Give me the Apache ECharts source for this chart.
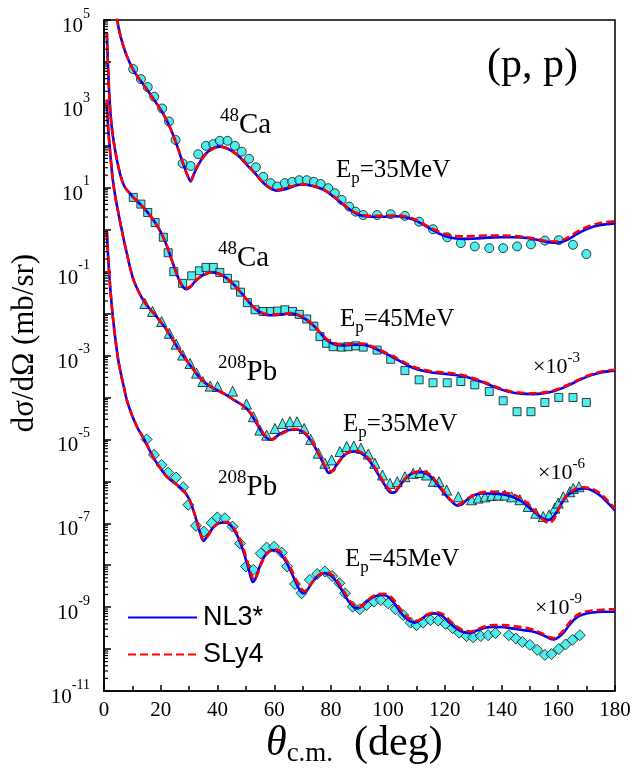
<!DOCTYPE html>
<html>
<head>
<meta charset="utf-8">
<script src="https://cdn.jsdelivr.net/npm/echarts@6/dist/echarts.min.js"></script>
<style>
  html, body { margin: 0; padding: 0; background: #fff; }
  #chart { width: 636px; height: 771px; }
</style>
</head>
<body>
<div id="chart"></div>
<script>
// all cross sections stored as log10(dσ/dΩ in mb/sr), angles in degrees

// ---- data points ----
var ca35Exp = [[10.3,3.83],[13.0,3.59],[15.4,3.40],[17.7,3.17],[20.5,2.89],[22.9,2.58],[25.2,2.14],[27.7,1.58],
  [30.5,1.52],[33.2,1.80],[35.9,2.00],[38.5,2.04],[40.8,2.12],[43.5,2.12],[46.1,2.00],[48.5,1.86],[51.1,1.69],
  [53.5,1.49],[56.1,1.26],[58.7,1.11],[61.0,1.03],[63.7,1.11],[66.3,1.14],[68.8,1.18],[71.4,1.18],[73.9,1.14],
  [76.3,1.09],[79.0,0.99],[81.3,0.87],[83.7,0.71],[86.4,0.55],[88.6,0.43],[91.3,0.35],[96.2,0.35],[101.0,0.37],
  [106.0,0.33],[111.0,0.19],[115.9,0.01],[120.9,-0.18],[125.7,-0.32],[130.6,-0.40],[135.7,-0.44],[140.6,-0.44],
  [145.5,-0.40],[150.4,-0.35],[155.3,-0.26],[160.2,-0.25],[165.2,-0.36],[169.9,-0.58]];

var ca45Exp = [[10.3,0.77],[13.0,0.61],[15.4,0.41],[18.0,0.17],[20.9,-0.18],[22.6,-0.55],[24.6,-1.0],[27.7,-1.28],
  [30.9,-1.10],[33.6,-0.98],[35.9,-0.90],[38.5,-0.90],[40.8,-1.02],[43.5,-1.16],[46.1,-1.32],[48.1,-1.49],
  [50.5,-1.74],[53.2,-1.91],[56.1,-1.95],[58.7,-1.95],[61.1,-1.94],[63.7,-1.91],[66.4,-1.95],[68.8,-2.02],
  [71.4,-2.13],[73.9,-2.30],[76.1,-2.55],[78.4,-2.71],[80.7,-2.79],[83.7,-2.80],[86.0,-2.79],[88.7,-2.77],
  [91.3,-2.80],[96.2,-2.87],[101.0,-3.09],[106.0,-3.36],[111.0,-3.58],[115.9,-3.65],[120.9,-3.65],[125.7,-3.62],
  [130.6,-3.70],[135.7,-3.86],[140.6,-4.08],[145.5,-4.34],[150.4,-4.34],[155.3,-4.12],[160.2,-4.00],
  [165.2,-4.00],[169.9,-4.12]];

var pb35Exp = [[14.4,-1.76],[17.1,-1.95],[20.3,-2.19],[23.0,-2.47],[25.4,-2.73],[27.7,-2.99],[30.3,-3.19],
  [32.6,-3.42],[34.8,-3.62],[37.4,-3.73],[40.0,-3.74],[45.3,-3.85],[50.2,-4.16],[52.6,-4.46],[54.9,-4.78],
  [57.3,-4.90],[60.2,-4.74],[62.9,-4.62],[65.5,-4.58],[68.0,-4.58],[70.5,-4.74],[72.8,-5.0],[75.5,-5.33],
  [77.8,-5.57],[80.2,-5.49],[83.1,-5.29],[85.5,-5.17],[88.0,-5.16],[90.5,-5.21],[93.1,-5.35],[95.4,-5.57],
  [98.1,-5.85],[100.7,-6.05],[103.3,-6.01],[106.0,-5.89],[108.9,-5.81],[111.3,-5.79],[113.6,-5.85],[116.0,-6.0],
  [118.0,-6.01],[120.7,-6.21],[124.8,-6.37],[129.5,-6.44],[131.8,-6.40],[134.2,-6.37],[136.5,-6.34],
  [138.8,-6.33],[141.2,-6.33],[143.6,-6.37],[146.5,-6.44],[149.4,-6.60],[152.1,-6.76],[154.7,-6.84],
  [156.8,-6.80],[158.8,-6.64],[160.0,-6.52],[161.8,-6.37],[164.1,-6.25],[165.3,-6.17],[167.3,-6.13]];

var pb45Exp = [[15.0,-5.00],[17.6,-5.37],[20.3,-5.61],[22.6,-5.79],[25.4,-5.91],[27.9,-6.14],[29.7,-6.56],
  [32.4,-7.06],[35.2,-7.20],[37.9,-6.99],[39.9,-6.86],[42.6,-6.88],[45.3,-7.08],[47.9,-7.48],[50.0,-8.03],
  [52.6,-8.11],[55.2,-7.72],[57.3,-7.58],[59.9,-7.56],[62.6,-7.70],[64.5,-8.03],[67.3,-8.45],[69.6,-8.67],
  [72.5,-8.35],[75.1,-8.21],[77.8,-8.15],[80.4,-8.26],[82.9,-8.43],[84.9,-8.67],[87.6,-8.99],[90.1,-9.05],
  [92.5,-8.95],[95.1,-8.87],[97.5,-8.83],[100.1,-8.91],[102.7,-9.05],[105.4,-9.19],[108.0,-9.37],[110.1,-9.43],
  [112.4,-9.37],[115.0,-9.31],[117.7,-9.32],[120.3,-9.40],[122.8,-9.50],[125.1,-9.61],[127.7,-9.69],
  [130.0,-9.72],[132.7,-9.69],[135.3,-9.67],[137.9,-9.62],[142.6,-9.67],[145.1,-9.75],[147.4,-9.83],
  [150.0,-9.90],[152.6,-10.02],[155.3,-10.14],[157.6,-10.12],[160.2,-10.0],[162.6,-9.89],[165.0,-9.78],
  [167.6,-9.67]];

// ---- NL3* curves ----
var ca35NL3 = [[4.5,5.05],[5.5,4.7],[6.5,4.45],[8,4.15],[10,3.85],[12,3.63],[14,3.45],[16,3.26],[18,3.06],[20,2.86],
  [22,2.62],[24,2.32],[26,1.95],[28,1.55],[29.5,1.28],[30.5,1.15],[31.5,1.3],[33,1.52],[35,1.74],[37,1.88],[39,1.96],
  [41,1.98],[43,1.95],[45,1.88],[47,1.78],[49,1.65],[51,1.5],[53,1.36],[55,1.2],[57,1.06],[59,0.97],[61,0.93],
  [63,0.95],[65,0.99],[67,1.04],[69,1.07],[71,1.07],[73,1.05],[75,1.01],[77,0.96],[79,0.88],[81,0.78],[83,0.67],
  [85,0.56],[87,0.46],[89,0.38],[91,0.33],[94,0.31],[98,0.31],[102,0.32],[106,0.3],[109,0.24],[112,0.14],
  [115,0.02],[118,-0.09],[121,-0.17],[124,-0.21],[127,-0.22],[131,-0.21],[135,-0.19],[140,-0.18],[145,-0.18],
  [149,-0.2],[153,-0.25],[156,-0.29],[159,-0.31],[161,-0.3],[163,-0.25],[165,-0.17],[168,-0.05],[171,0.04],
  [174,0.1],[177,0.13],[180,0.15]];

var ca45NL3 = [[1,4.7],[1.5,3.75],[2,3.05],[2.5,2.6],[3,2.3],[3.9,1.9],[5,1.52],[6,1.25],[7,1.06],[8,0.95],[9.2,0.86],
  [10.3,0.77],[12,0.66],[14,0.52],[16,0.36],[18,0.17],[20,-0.06],[22,-0.36],[24,-0.75],[26,-1.12],[27.5,-1.33],
  [29,-1.42],[30.5,-1.36],[32,-1.24],[34,-1.12],[36,-1.05],[38,-1.02],[40,-1.04],[42,-1.1],[44,-1.2],[46,-1.33],
  [48,-1.48],[50,-1.64],[52,-1.8],[54,-1.93],[56,-2.0],[58,-2.04],[60,-2.04],[62,-2.03],[64,-2.01],[66,-2.0],
  [68,-2.03],[70,-2.09],[72,-2.18],[74,-2.3],[76,-2.45],[78,-2.6],[80,-2.7],[82,-2.75],[85,-2.76],[88,-2.74],
  [91,-2.74],[94,-2.79],[97,-2.88],[100,-2.98],[103,-3.09],[106,-3.2],[109,-3.3],[112,-3.36],[115,-3.4],
  [119,-3.43],[123,-3.46],[127,-3.5],[131,-3.58],[135,-3.68],[139,-3.79],[143,-3.87],[147,-3.91],[151,-3.92],
  [155,-3.9],[158,-3.86],[161,-3.79],[164,-3.7],[167,-3.6],[170,-3.51],[173,-3.44],[176,-3.39],[180,-3.36]];

var pb35NL3 = [[1,3.1],[1.5,2.4],[2.1,1.9],[3,1.25],[4,0.78],[5,0.42],[6,0.08],[7,-0.25],[8,-0.55],[9,-0.85],
  [10.3,-1.18],[12,-1.45],[14,-1.7],[16,-1.88],[18,-2.03],[20,-2.2],[22,-2.38],[24,-2.6],[26,-2.82],[28,-3.02],
  [30,-3.2],[32,-3.38],[34,-3.55],[36,-3.67],[38,-3.76],[40,-3.83],[42,-3.9],[44,-3.98],[46,-4.07],[48,-4.15],
  [50,-4.25],[52,-4.42],[54,-4.65],[56,-4.87],[58,-5.0],[59,-5.01],[60,-4.97],[62,-4.87],[64,-4.8],[66,-4.77],
  [68,-4.77],[70,-4.82],[72,-4.95],[74,-5.15],[76,-5.4],[78,-5.68],[79.2,-5.8],[80.5,-5.75],[82,-5.6],[84,-5.42],
  [86,-5.32],[88.4,-5.29],[90.5,-5.33],[93,-5.47],[95,-5.66],[97,-5.88],[99,-6.1],[101,-6.27],[102.5,-6.26],
  [104,-6.13],[106,-5.95],[108,-5.83],[110,-5.78],[112,-5.78],[114,-5.83],[116,-5.95],[118,-6.12],[120,-6.3],
  [122,-6.45],[124.5,-6.58],[126,-6.55],[128,-6.43],[130,-6.34],[133,-6.29],[136,-6.29],[139,-6.3],[142,-6.33],
  [145,-6.4],[148,-6.52],[151,-6.7],[154,-6.86],[156,-6.92],[157.5,-6.9],[159,-6.78],[161,-6.55],[163,-6.35],
  [165,-6.25],[167,-6.19],[169.5,-6.17],[172,-6.22],[175,-6.35],[178,-6.55],[180,-6.7]];

var pb45NL3 = [[1,-0.05],[1.5,-0.7],[2.1,-1.3],[3,-2.0],[4,-2.6],[5,-3.1],[6,-3.45],[7,-3.75],[8,-4.05],[10,-4.45],
  [12,-4.75],[14,-4.98],[16,-5.25],[18,-5.5],[20,-5.7],[22,-5.88],[24,-6.0],[26,-6.1],[28,-6.22],[30,-6.42],
  [32,-6.8],[33.5,-7.15],[35,-7.42],[36.5,-7.3],[38.5,-7.1],[41,-6.99],[43,-6.98],[45,-7.08],[47,-7.3],[49,-7.65],
  [51,-8.1],[52.4,-8.4],[53.5,-8.3],[55,-8.0],[57,-7.75],[59.6,-7.64],[61.5,-7.68],[63.5,-7.85],[65.5,-8.1],
  [67.5,-8.4],[69,-8.6],[70.2,-8.67],[71.5,-8.6],[73.5,-8.4],[75.5,-8.25],[77.8,-8.19],[80,-8.25],[82,-8.4],
  [84,-8.62],[86,-8.85],[88,-9.0],[89.5,-9.03],[91,-8.97],[93,-8.84],[95.5,-8.74],[98.3,-8.71],[101,-8.8],
  [103,-8.98],[105,-9.17],[107,-9.3],[109.5,-9.37],[111.5,-9.3],[113.5,-9.2],[116.5,-9.15],[119,-9.2],
  [121,-9.33],[123.5,-9.48],[126,-9.58],[128.9,-9.62],[131,-9.57],[134,-9.5],[137,-9.47],[141,-9.48],
  [145,-9.52],[149,-9.56],[152,-9.6],[155,-9.68],[157,-9.75],[158.5,-9.77],[160,-9.72],[162,-9.6],[164,-9.42],
  [166.4,-9.25],[169,-9.17],[172,-9.13],[176,-9.11],[180,-9.11]];

// ---- SLy4 curves ----
var ca35SLy4 = [[4.5,5.05],[5.5,4.7],[6.5,4.45],[8,4.15],[10,3.85],[12,3.63],[14,3.45],[16,3.26],[18,3.06],[20,2.86],
  [22,2.62],[24,2.32],[26,1.95],[28,1.55],[29.5,1.28],[30.5,1.17],[31.5,1.3],[33,1.52],[35,1.73],[37,1.87],[39,1.95],
  [41,1.97],[43,1.95],[45,1.88],[47,1.78],[49,1.65],[51,1.5],[53,1.36],[55,1.2],[57,1.07],[59,0.98],[61,0.95],
  [63,0.97],[65,1.01],[67,1.05],[69,1.08],[71,1.08],[73,1.06],[75,1.02],[77,0.97],[79,0.89],[81,0.79],[83,0.68],
  [85,0.57],[87,0.47],[89,0.4],[91,0.35],[94,0.33],[98,0.33],[102,0.34],[106,0.32],[109,0.26],[112,0.16],
  [115,0.05],[118,-0.05],[121,-0.12],[124,-0.15],[127,-0.16],[131,-0.15],[135,-0.14],[140,-0.14],[145,-0.15],
  [149,-0.18],[153,-0.23],[156,-0.27],[159,-0.28],[161,-0.26],[163,-0.2],[165,-0.12],[168,0.0],[171,0.09],
  [174,0.15],[177,0.18],[180,0.2]];

var ca45SLy4 = [[1,4.7],[1.5,3.75],[2,3.05],[2.5,2.6],[3,2.3],[3.9,1.9],[5,1.52],[6,1.25],[7,1.06],[8,0.95],[9.2,0.86],
  [10.3,0.77],[12,0.66],[14,0.52],[16,0.36],[18,0.17],[20,-0.06],[22,-0.36],[24,-0.75],[26,-1.12],[27.5,-1.32],
  [29,-1.4],[30.5,-1.35],[32,-1.24],[34,-1.12],[36,-1.05],[38,-1.02],[40,-1.04],[42,-1.1],[44,-1.2],[46,-1.33],
  [48,-1.48],[50,-1.64],[52,-1.8],[54,-1.92],[56,-1.99],[58,-2.02],[60,-2.02],[62,-2.01],[64,-2.0],[66,-1.99],
  [68,-2.02],[70,-2.08],[72,-2.17],[74,-2.29],[76,-2.44],[78,-2.58],[80,-2.68],[82,-2.73],[85,-2.74],[88,-2.72],
  [91,-2.72],[94,-2.77],[97,-2.86],[100,-2.96],[103,-3.06],[106,-3.17],[109,-3.27],[112,-3.33],[115,-3.37],
  [119,-3.4],[123,-3.43],[127,-3.48],[131,-3.56],[135,-3.66],[139,-3.77],[143,-3.85],[147,-3.89],[151,-3.9],
  [155,-3.88],[158,-3.84],[161,-3.77],[164,-3.68],[167,-3.58],[170,-3.49],[173,-3.42],[176,-3.37],[180,-3.34]];

var pb35SLy4 = [[1,3.1],[1.5,2.4],[2.1,1.9],[3,1.25],[4,0.78],[5,0.42],[6,0.08],[7,-0.25],[8,-0.55],[9,-0.85],
  [10.3,-1.18],[12,-1.45],[14,-1.7],[16,-1.88],[18,-2.03],[20,-2.2],[22,-2.38],[24,-2.6],[26,-2.82],[28,-3.02],
  [30,-3.2],[32,-3.38],[34,-3.55],[36,-3.67],[38,-3.76],[40,-3.83],[42,-3.9],[44,-3.98],[46,-4.07],[48,-4.15],
  [50,-4.25],[52,-4.4],[54,-4.62],[56,-4.84],[58,-4.98],[59.5,-5.0],[61,-4.94],[63,-4.85],[65,-4.79],[67,-4.76],
  [69,-4.77],[71,-4.86],[73,-5.03],[75,-5.26],[77,-5.53],[79,-5.74],[80.5,-5.76],[82,-5.62],[84,-5.43],
  [86,-5.31],[88.8,-5.27],[91,-5.32],[93,-5.44],[95,-5.62],[97,-5.84],[99,-6.06],[101.5,-6.25],[103,-6.2],
  [105,-6.03],[107,-5.88],[109,-5.8],[111,-5.76],[113,-5.77],[115,-5.85],[117,-6.0],[119,-6.18],[121,-6.36],
  [123,-6.5],[125,-6.55],[127,-6.47],[129,-6.37],[132,-6.28],[135,-6.25],[138,-6.25],[141,-6.27],[144,-6.31],
  [147,-6.41],[150,-6.58],[153,-6.8],[155.5,-6.96],[157,-6.99],[158.5,-6.9],[160,-6.68],[162,-6.42],
  [164,-6.27],[166,-6.18],[169,-6.14],[172,-6.18],[175,-6.3],[178,-6.5],[180,-6.65]];

var pb45SLy4 = [[1,-0.05],[1.5,-0.7],[2.1,-1.3],[3,-2.0],[4,-2.6],[5,-3.1],[6,-3.45],[7,-3.75],[8,-4.05],[10,-4.45],
  [12,-4.75],[14,-4.98],[16,-5.25],[18,-5.5],[20,-5.7],[22,-5.88],[24,-6.0],[26,-6.1],[28,-6.22],[30,-6.42],
  [32,-6.8],[33.5,-7.13],[35.2,-7.4],[36.8,-7.28],[38.8,-7.08],[41.2,-6.97],[43.3,-6.97],[45.3,-7.07],[47.3,-7.3],
  [49.3,-7.65],[51.3,-8.08],[52.8,-8.35],[54,-8.22],[55.5,-7.95],[57.5,-7.72],[60,-7.62],[62,-7.67],[64,-7.85],
  [66,-8.1],[68,-8.4],[69.5,-8.58],[70.7,-8.62],[72,-8.53],[74,-8.35],[76,-8.22],[78.3,-8.17],[80.5,-8.24],
  [82.5,-8.4],[84.5,-8.62],[86.5,-8.84],[88.5,-8.98],[90,-9.0],[91.5,-8.94],[93.5,-8.8],[96,-8.7],[98.8,-8.68],
  [101.5,-8.78],[103.5,-8.96],[105.5,-9.14],[107.5,-9.27],[110,-9.33],[112,-9.27],[114,-9.17],[117,-9.12],
  [119.5,-9.17],[121.5,-9.3],[124,-9.45],[126.5,-9.55],[129.3,-9.58],[131.5,-9.53],[134,-9.46],[137,-9.43],
  [141,-9.43],[145,-9.46],[149,-9.5],[152,-9.56],[155,-9.65],[157,-9.72],[158.5,-9.74],[160,-9.68],[162,-9.55],
  [164,-9.36],[166.4,-9.2],[169,-9.12],[172,-9.08],[176,-9.06],[180,-9.05]];

// y axis decades (log10) and the minor tick multipliers
var yMinLog = -11, yMaxLog = 5;
var minorMult = [2, 3, 4, 5, 6, 7, 8, 9];

var minorTicks = [];
for (var n = yMinLog; n < yMaxLog; n++) {
  minorMult.forEach(function (k) { minorTicks.push([0, n + Math.log10(k)]); });
}

var SERIF = '"Liberation Serif", "Times New Roman", serif';
var SANS = '"Liberation Sans", Arial, sans-serif';
var CYAN = '#22eaea';

// small helper to build text with sub/superscripts as graphic elements
var measureCtx = document.createElement('canvas').getContext('2d');
function textWidth(t, font) { measureCtx.font = font; return measureCtx.measureText(t).width; }
function richText(x, baseline, parts) {
  var cx = x, els = [];
  parts.forEach(function (p) {
    var font = (p.italic ? 'italic ' : '') + p.size + 'px ' + SERIF;
    if (p.x != null) cx = p.x;
    els.push({
      type: 'text', x: cx, y: baseline + (p.dy || 0) - 0.32 * p.size, silent: true,
      style: { text: p.t, font: font, fill: '#000', align: 'left', verticalAlign: 'middle' }
    });
    cx += textWidth(p.t, font);
  });
  return els;
}
function nucleus(x, b, mass, sym) {
  return richText(x, b, [{ t: mass, size: 19, dy: -13 }, { t: sym, size: 29 }]);
}
function energy(x, b, e) {
  return richText(x, b, [{ t: 'E', size: 25 }, { t: 'p', size: 17, dy: 6 }, { t: '=' + e + 'MeV', size: 25 }]);
}
function scale(x, b, p) {
  return richText(x, b, [{ t: '\u00d710', size: 22 }, { t: p, size: 15, dy: -11 }]);
}

var graphics = [].concat(
  richText(487, 79, [{ t: '(p, p)', size: 42 }]),
  nucleus(220, 135, '48', 'Ca'),
  energy(336, 178, '35'),
  nucleus(218, 268, '48', 'Ca'),
  energy(340, 327, '45'),
  scale(533, 374, '-3'),
  nucleus(218, 382, '208', 'Pb'),
  energy(343, 432, '35'),
  scale(538, 480, '-6'),
  nucleus(218, 497, '208', 'Pb'),
  energy(345, 567, '45'),
  scale(535, 615, '-9'),
  richText(266, 757, [{ t: '\u03b8', size: 42, italic: true }, { t: 'c.m.', size: 27, dy: 6 }, { t: '(deg)', size: 42, x: 354 }]),
  [{
    type: 'text', x: 25, y: 343, rotation: Math.PI / 2, silent: true,
    style: { text: 'd\u03c3/d\u03a9 (mb/sr)', font: '31px ' + SERIF, fill: '#000', align: 'center', verticalAlign: 'middle' }
  }]
);

function expSeries(name, data, symbol, size) {
  return {
    name: name, type: 'scatter', data: data, symbol: symbol, symbolSize: size, z: 2,
    itemStyle: { color: CYAN, borderColor: '#111', borderWidth: 1 }
  };
}
function curve(name, data, color, dashed) {
  return {
    name: name, type: 'line', data: data, symbol: 'none', smooth: 0.3, z: dashed ? 4 : 3,
    lineStyle: { color: color, width: 2.6, type: dashed ? [8, 4] : 'solid' },
    itemStyle: { color: color }
  };
}

var chart = echarts.init(document.getElementById('chart'));
chart.setOption({
  animation: false,
  backgroundColor: '#fff',
  grid: { left: 104, right: 21, top: 20, bottom: 80, show: true, borderColor: '#000', borderWidth: 1.5, containLabel: false },
  xAxis: {
    type: 'value', min: 0, max: 180, interval: 20,
    axisLine: { onZero: false, lineStyle: { color: '#000', width: 1.5 } },
    axisTick: { inside: true, length: 6, lineStyle: { color: '#000', width: 1.5 } },
    minorTick: { show: true, splitNumber: 2, length: 5, lineStyle: { color: '#000', width: 1.5 } },
    splitLine: { show: false },
    axisLabel: { color: '#000', fontSize: 21, fontFamily: SERIF, margin: 9 }
  },
  yAxis: {
    type: 'value', min: yMinLog, max: yMaxLog, interval: 1,
    axisLine: { onZero: false, lineStyle: { color: '#000', width: 1.5 } },
    axisTick: { inside: true, length: 7, lineStyle: { color: '#000', width: 1.5 } },
    splitLine: { show: false },
    axisLabel: {
      margin: 14, padding: [4, 0, 0, 0],
      formatter: function (v) { return Math.abs(v % 2) === 1 ? '{b|10}{s|' + v + '}' : ''; },
      rich: {
        b: { fontSize: 21, fontFamily: SERIF, color: '#000', lineHeight: 30, verticalAlign: 'bottom' },
        s: { fontSize: 14, fontFamily: SERIF, color: '#000', lineHeight: 14, verticalAlign: 'top' }
      }
    }
  },
  legend: {
    data: ['NL3*', 'SLy4'], orient: 'vertical', left: 122, top: 599,
    itemWidth: 69, itemHeight: 14, itemGap: 10,
    itemStyle: { color: 'rgba(0,0,0,0)', borderWidth: 0 },
    textStyle: { fontFamily: SANS, fontSize: 27, color: '#000', padding: [0, 0, 0, 1] }
  },
  graphic: graphics,
  series: [
    expSeries('exp1', ca35Exp, 'circle', 9),
    expSeries('exp2', ca45Exp, 'rect', 8),
    expSeries('exp3', pb35Exp, 'triangle', 10),
    expSeries('exp4', pb45Exp, 'diamond', 11),
    curve('NL3*', ca35NL3, '#0000ff', false),
    curve('NL3*', ca45NL3, '#0000ff', false),
    curve('NL3*', pb35NL3, '#0000ff', false),
    curve('NL3*', pb45NL3, '#0000ff', false),
    curve('SLy4', ca35SLy4, '#ff0000', true),
    curve('SLy4', ca45SLy4, '#ff0000', true),
    curve('SLy4', pb35SLy4, '#ff0000', true),
    curve('SLy4', pb45SLy4, '#ff0000', true),
    {
      name: 'minorTicks', type: 'custom', data: minorTicks, silent: true, z: 5, clip: false,
      renderItem: function (params, api) {
        var p = api.coord([api.value(0), api.value(1)]);
        return { type: 'line', shape: { x1: p[0], y1: p[1], x2: p[0] + 4, y2: p[1] }, style: { stroke: '#000', lineWidth: 1.2 } };
      }
    }
  ]
});
</script>
</body>
</html>
